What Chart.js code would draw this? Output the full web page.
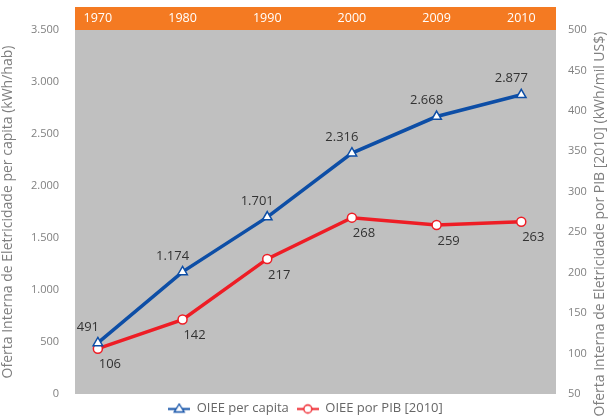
<!DOCTYPE html>
<html>
<head>
<meta charset="utf-8">
<script src="https://cdn.jsdelivr.net/npm/chart.js@4.4.0/dist/chart.umd.min.js"></script>
<style>
  html, body { margin: 0; padding: 0; background: #fff; }
  #wrap { width: 611px; height: 416px; }
</style>
</head>
<body>
<div id="wrap"><canvas id="grafico" width="611" height="416"></canvas></div>
<script>
// === DADOS ===
const ANOS = ["1970", "1980", "1990", "2000", "2009", "2010"];
const OIEE_PER_CAPITA = [491, 1174, 1701, 2316, 2668, 2877];   // kWh/hab
const OIEE_POR_PIB = [106, 142, 217, 268, 259, 263];            // kWh/mil US$
const TICKS_ESQ = [0, 500, 1000, 1500, 2000, 2500, 3000, 3500];
const TICKS_DIR = [50, 100, 150, 200, 250, 300, 350, 400, 450, 500];

const AZUL = '#0d4ea6';
const VERMELHO = '#ee1d25';
const LARANJA = '#f47a22';
const CINZA = '#c0c0c0';
const FONTE = "'Open Sans', sans-serif";

// formato 3.500
function milhar(v) {
    return String(v).replace(/\B(?=(\d{3})+(?!\d))/g, '.');
}

// pequeno desenho de legenda: linha + marcador
function iconeLegenda(cor, tipo) {
    const c = document.createElement('canvas');
    c.width = 22; c.height = 12;
    const ctx = c.getContext('2d');
    ctx.strokeStyle = cor;
    ctx.lineWidth = 2;
    ctx.beginPath(); ctx.moveTo(0, 6.5); ctx.lineTo(22, 6.5); ctx.stroke();
    ctx.fillStyle = '#fff';
    ctx.lineWidth = 1.3;
    ctx.beginPath();
    if (tipo === 'triangle') {
        ctx.moveTo(11, 1.5); ctx.lineTo(16, 9.5); ctx.lineTo(6, 9.5); ctx.closePath();
    } else {
        ctx.arc(11, 6.5, 4, 0, Math.PI * 2);
    }
    ctx.fill(); ctx.stroke();
    return c;
}

// fundo cinza + faixa laranja
const fundoPlugin = {
    id: 'fundo',
    beforeDraw(chart) {
        const { ctx, chartArea: a } = chart;
        ctx.save();
        ctx.fillStyle = CINZA;
        ctx.fillRect(a.left, a.top, a.right - a.left, a.bottom - a.top);
        ctx.fillStyle = LARANJA;
        ctx.fillRect(a.left, 7, a.right - a.left, a.top - 7);
        ctx.restore();
    }
};

// rótulos dos pontos
const rotulosPlugin = {
    id: 'rotulos',
    afterDatasetsDraw(chart) {
        const ctx = chart.ctx;
        ctx.save();
        ctx.font = "13px " + FONTE;
        ctx.fillStyle = '#333';
        ctx.textAlign = 'center';
        ctx.textBaseline = 'middle';
        chart.data.datasets.forEach((ds, i) => {
            const meta = chart.getDatasetMeta(i);
            meta.data.forEach((pt, j) => {
                const txt = milhar(ds.data[j].y);
                ctx.fillText(txt, pt.x + ds.rotuloDx, pt.y + ds.rotuloDy);
            });
        });
        ctx.restore();
    }
};

// título do eixo direito (lido de baixo para cima)
const tituloDirPlugin = {
    id: 'tituloDir',
    afterDraw(chart) {
        const { ctx, chartArea: a } = chart;
        ctx.save();
        ctx.translate(600, 224);
        ctx.rotate(-Math.PI / 2);
        ctx.font = "14px " + FONTE;
        ctx.fillStyle = '#7f7f7f';
        ctx.textAlign = 'center';
        ctx.textBaseline = 'middle';
        ctx.fillText('Oferta Interna de Eletricidade por PIB [2010] (kWh/mil US$)', 0, 0);
        ctx.restore();
    }
};

const ctx = document.getElementById('grafico').getContext('2d');
new Chart(ctx, {
    type: 'line',
    data: {
        datasets: [{
            label: 'OIEE per capita',
            data: OIEE_PER_CAPITA.map((v, i) => ({ x: i, y: v })),
            yAxisID: 'y',
            borderColor: AZUL,
            borderWidth: 3.5,
            pointStyle: 'triangle',
            pointRadius: 5.5,
            pointBorderWidth: 1.5,
            pointBackgroundColor: '#fff',
            pointBorderColor: AZUL,
            tension: 0,
            rotuloDx: -10,
            rotuloDy: -16,
        }, {
            label: 'OIEE por PIB [2010]',
            data: OIEE_POR_PIB.map((v, i) => ({ x: i, y: v })),
            yAxisID: 'y1',
            borderColor: VERMELHO,
            borderWidth: 3.5,
            pointStyle: 'circle',
            pointRadius: 4.5,
            pointBorderWidth: 1.5,
            pointBackgroundColor: '#fff',
            pointBorderColor: VERMELHO,
            tension: 0,
            rotuloDx: 12,
            rotuloDy: 16,
        }]
    },
    options: {
        responsive: false,
        animation: false,
        layout: { padding: { top: 7, left: 0, right: 0, bottom: -9 } },
        scales: {
            x: {
                type: 'linear',
                position: 'top',
                min: -0.27,
                max: 5.41,
                afterBuildTicks: (s) => { s.ticks = ANOS.map((_, i) => ({ value: i })); },
                afterFit: (s) => { s.height = 23; },
                grid: { display: false, drawTicks: false },
                border: { display: false },
                ticks: {
                    color: '#fff',
                    font: { family: FONTE, size: 12.5 },
                    padding: 4,
                    maxRotation: 0,
                    callback: (v) => ANOS[v] ?? '',
                },
            },
            y: {
                position: 'left',
                min: 0,
                max: 3500,
                afterBuildTicks: (s) => { s.ticks = TICKS_ESQ.map(v => ({ value: v })); },
                afterFit: (s) => { s.width = 75; },
                grid: { display: false },
                border: { display: false },
                ticks: {
                    color: '#808080',
                    font: { family: FONTE, size: 11 },
                    padding: 8,
                    callback: (v) => milhar(v),
                },
                title: {
                    display: true,
                    text: 'Oferta Interna de Eletricidade per capita (kWh/hab)',
                    color: '#7f7f7f',
                    font: { family: FONTE, size: 14 },
                    padding: { top: 0, bottom: 0 },
                },
            },
            y1: {
                position: 'right',
                min: 50,
                max: 500,
                afterBuildTicks: (s) => { s.ticks = TICKS_DIR.map(v => ({ value: v })); },
                afterFit: (s) => { s.width = 55; },
                grid: { display: false },
                border: { display: false },
                ticks: {
                    color: '#808080',
                    font: { family: FONTE, size: 11 },
                    padding: 4,
                },
            },
        },
        plugins: {
            legend: {
                position: 'bottom',
                labels: {
                    usePointStyle: true,
                    pointStyleWidth: 22,
                    color: '#666',
                    font: { family: FONTE, size: 13 },
                    padding: 8,
                    generateLabels: (chart) => chart.data.datasets.map((ds, i) => ({
                        text: ds.label,
                        pointStyle: iconeLegenda(ds.borderColor, ds.pointStyle),
                        fillStyle: ds.borderColor,
                        strokeStyle: ds.borderColor,
                        lineWidth: 0,
                        fontColor: '#666',
                        datasetIndex: i,
                        hidden: !chart.isDatasetVisible(i),
                    })),
                },
            },
            tooltip: { enabled: true },
        },
    },
    plugins: [fundoPlugin, rotulosPlugin, tituloDirPlugin],
});
</script>
</body>
</html>
